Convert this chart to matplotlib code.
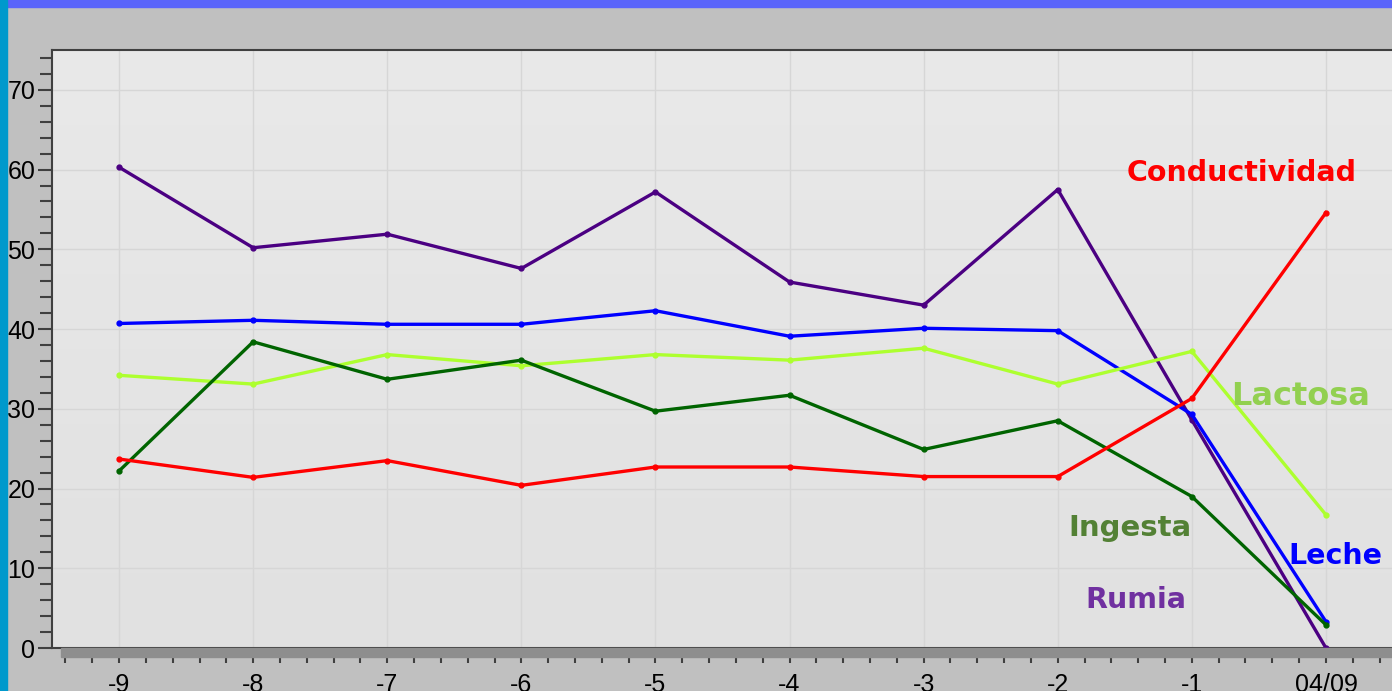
import matplotlib
matplotlib.use("Agg")
import matplotlib.pyplot as plt
import numpy as np
from matplotlib.patches import Rectangle
from matplotlib.ticker import MultipleLocator, FixedLocator, FixedFormatter
from matplotlib.colors import LinearSegmentedColormap

x_pos = [-9, -8, -7, -6, -5, -4, -3, -2, -1, 0]
x_labels = ["-9", "-8", "-7", "-6", "-5", "-4", "-3", "-2", "-1", "04/09"]

rumia = [60.3, 50.2, 51.9, 47.6, 57.2, 45.9, 43.0, 57.5, 28.6, 0.0]
leche = [40.7, 41.1, 40.6, 40.6, 42.3, 39.1, 40.1, 39.8, 29.3, 3.3]
lactosa = [34.2, 33.1, 36.8, 35.4, 36.8, 36.1, 37.6, 33.1, 37.2, 16.7]
ingesta = [22.2, 38.4, 33.7, 36.1, 29.7, 31.7, 24.9, 28.5, 19.0, 2.9]
conductividad = [23.7, 21.4, 23.5, 20.4, 22.7, 22.7, 21.5, 21.5, 31.3, 54.6]

y_ticks = [0, 10, 20, 30, 40, 50, 60, 70]

fig = plt.figure(figsize=(13.92, 6.91), dpi=100, facecolor="#c0c0c0")

# frame decorations
fig.patches.append(Rectangle((0, 1 - 7 / 691), 1, 7 / 691, transform=fig.transFigure,
                             color="#5a64fa", zorder=0))
fig.patches.append(Rectangle((0, 0), 7 / 1392, 1, transform=fig.transFigure,
                             color="#0099cc", zorder=1))
# dark band under x axis
fig.patches.append(Rectangle((61 / 1392, (691 - 657) / 691), 1, 9 / 691,
                             transform=fig.transFigure, color="#8e8e8e", zorder=0))

ax = fig.add_axes([52 / 1392, (691 - 648) / 691, 1341 / 1392, 598 / 691])
ax.set_xlim(-9.5, 0.5)
ax.set_ylim(0, 75)

# gradient background
grad = np.linspace(0, 1, 256).reshape(-1, 1)
cm = LinearSegmentedColormap.from_list("bg", ["#e1e1e1", "#e9e9e9"])
ax.imshow(grad, extent=[-9.5, 0.5, 0, 75], aspect="auto", origin="lower", cmap=cm, zorder=0)

ax.grid(True, which="major", color="#d6d6d6", linewidth=1.0, zorder=1)
ax.set_axisbelow(True)

series = [
    (rumia, "#4b0082"),
    (leche, "#0000ff"),
    (lactosa, "#adff2f"),
    (ingesta, "#006400"),
    (conductividad, "#ff0000"),
]
for vals, col in series:
    ax.plot(x_pos, vals, color=col, linewidth=2.4, marker="o", markersize=3.5, zorder=3,
            clip_on=False)

ax.xaxis.set_major_locator(FixedLocator(x_pos))
ax.xaxis.set_major_formatter(FixedFormatter(x_labels))
ax.xaxis.set_minor_locator(MultipleLocator(0.2))
ax.yaxis.set_major_locator(FixedLocator(y_ticks))
ax.yaxis.set_minor_locator(MultipleLocator(2))

for sp in ["left", "bottom", "top"]:
    ax.spines[sp].set_color("#404040")
    ax.spines[sp].set_linewidth(1.5)
ax.spines["right"].set_visible(False)

ax.tick_params(axis="x", which="both", direction="out", length=11, width=1.5,
               color="#404040", pad=7, labelsize=18)
ax.tick_params(axis="y", which="major", direction="out", length=10, width=1.5,
               color="#404040", pad=2, labelsize=18)
ax.tick_params(axis="y", which="minor", direction="out", length=9, width=1.5,
               color="#404040")
for lab in ax.get_xticklabels() + ax.get_yticklabels():
    lab.set_fontfamily("Liberation Sans")

lab_font = dict(family="DejaVu Sans", fontweight="bold", ha="center", va="center")
ax.text(-0.63, 59.6, "Conductividad", color="#ff0000", fontsize=20.5, **lab_font)
ax.text(-0.19, 31.6, "Lactosa", color="#92d050", fontsize=23, **lab_font)
ax.text(-1.46, 15.0, "Ingesta", color="#538135", fontsize=21, **lab_font)
ax.text(0.07, 11.6, "Leche", color="#0000ff", fontsize=20.5, **lab_font)
ax.text(-1.42, 6.0, "Rumia", color="#7030a0", fontsize=20.5, **lab_font)

fig.savefig("out.png", dpi=100, facecolor=fig.get_facecolor())
